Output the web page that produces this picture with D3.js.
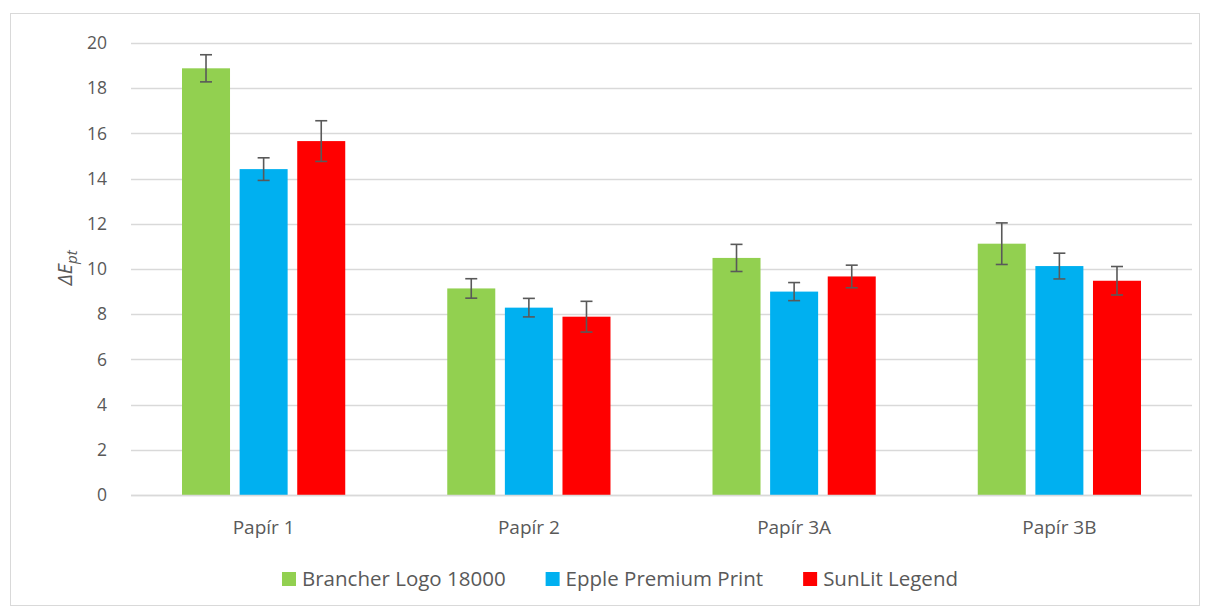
<!DOCTYPE html>
<html><head><meta charset="utf-8">
<script src="https://cdn.jsdelivr.net/npm/d3@7"></script>
<style>body{margin:0;background:#fff}svg{display:block}text{font-family:"Open Sans",sans-serif}</style>
</head><body>
<svg id="c" width="1210" height="610"></svg>
<script>
const categories = ["Papír 1","Papír 2","Papír 3A","Papír 3B"];
const seriesNames = ["Brancher Logo 18000","Epple Premium Print","SunLit Legend"];
const seriesColors = ["#92d050","#00b0f0","#ff0000"];
const brancher = [18.88, 9.14, 10.49, 11.12];
const epple    = [14.42, 8.29, 9.00, 10.13];
const sunlit   = [15.66, 7.89, 9.67, 9.48];
const brancherErr = [0.60, 0.43, 0.60, 0.92];
const eppleErr    = [0.50, 0.41, 0.40, 0.57];
const sunlitErr   = [0.90, 0.68, 0.50, 0.63];
const yTicks = [0,2,4,6,8,10,12,14,16,18,20];

const values = [brancher, epple, sunlit];
const errs = [brancherErr, eppleErr, sunlitErr];
const FONT = '"Open Sans",sans-serif';

const svg = d3.select("#c");
svg.append("rect").attr("x",10.5).attr("y",13.5).attr("width",1189).attr("height",592)
  .attr("fill","#fff").attr("stroke","#d9d9d9").attr("stroke-width",1);

const L=131, R=1192, T=43, B=495;
const x = d3.scaleBand().domain(categories).range([L,R]).padding(0);
const y = d3.scaleLinear().domain([0,20]).range([B,T]);

const g = svg.append("g");
g.selectAll("line.grid").data(yTicks).join("line")
  .attr("x1",L).attr("x2",R).attr("y1",d=>Math.round(y(d))+0.5).attr("y2",d=>Math.round(y(d))+0.5)
  .attr("stroke","#d9d9d9").attr("stroke-width",1.3);

const yAxis = d3.axisLeft(y).tickValues(yTicks).tickSize(0).tickPadding(0);
const ya = svg.append("g").attr("transform",`translate(107,0)`).call(yAxis);
ya.select(".domain").remove();
ya.selectAll("text").attr("font-size",17.5).attr("fill","#595959").attr("font-family",FONT);

const bw = x.bandwidth()*0.181;
const stepB = bw*1.2;
const groupW = bw*3 + bw*0.4;
const data = [];
categories.forEach((c,i)=>{
  values.forEach((s,j)=>{
    data.push({c, j, v:s[i], e:errs[j][i]});
  });
});
const bx = d => x(d.c) + x.bandwidth()/2 - groupW/2 + d.j*stepB;
g.selectAll("rect.bar").data(data).join("rect")
  .attr("x",bx).attr("width",bw)
  .attr("y",d=>y(d.v)).attr("height",d=>y(0)-y(d.v))
  .attr("fill",d=>seriesColors[d.j]);

const eg = g.selectAll("g.err").data(data).join("g").attr("stroke","#595959").attr("stroke-width",1.6);
eg.append("line").attr("x1",d=>bx(d)+bw/2).attr("x2",d=>bx(d)+bw/2)
  .attr("y1",d=>y(d.v+d.e)).attr("y2",d=>y(d.v-d.e));
eg.append("line").attr("x1",d=>bx(d)+bw/2-6).attr("x2",d=>bx(d)+bw/2+6)
  .attr("y1",d=>y(d.v+d.e)).attr("y2",d=>y(d.v+d.e));
eg.append("line").attr("x1",d=>bx(d)+bw/2-6).attr("x2",d=>bx(d)+bw/2+6)
  .attr("y1",d=>y(d.v-d.e)).attr("y2",d=>y(d.v-d.e));

const xAxis = d3.axisBottom(x).tickSize(0).tickPadding(0);
const xa = svg.append("g").attr("transform",`translate(0,${B})`).call(xAxis);
xa.select(".domain").remove();
xa.selectAll("text").attr("dy",null).attr("y",39).attr("font-size",19).attr("fill","#595959").attr("font-family",FONT);
svg.append("line").attr("x1",L).attr("x2",R).attr("y1",B+0.5).attr("y2",B+0.5).attr("stroke","#d9d9d9").attr("stroke-width",1.3);

const yl = svg.append("text").attr("transform","translate(72,268) rotate(-90)")
  .attr("text-anchor","middle").attr("font-size",20).attr("fill","#595959").attr("font-style","italic").attr("font-family",FONT);
yl.append("tspan").text("ΔE");
yl.append("tspan").text("pt").attr("font-size",15).attr("dy",5);

const lg = svg.append("g");
const items = lg.selectAll("g").data(seriesNames).join("g");
items.append("rect").attr("width",14).attr("height",14).attr("y",-7).attr("fill",(d,i)=>seriesColors[i]);
items.append("text").attr("x",20).attr("y",0).attr("dy","0.35em").attr("font-size",20.5).attr("fill","#595959").attr("font-family",FONT).text(d=>d);
let cx=0; const pos=[];
items.each(function(d,i){ const w=this.getBBox().width; pos.push(cx); cx+=w+(i<2?40:0); });
const startX = 620 - cx/2;
items.attr("transform",(d,i)=>`translate(${startX+pos[i]},579)`);
</script>
</body></html>
